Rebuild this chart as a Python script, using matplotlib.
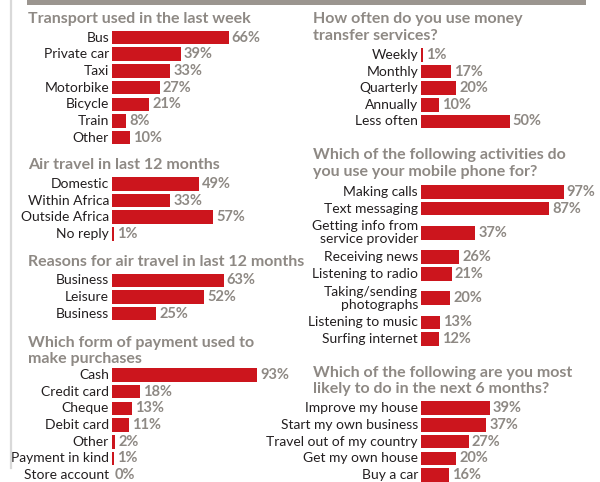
import matplotlib
matplotlib.use("Agg")
import matplotlib.pyplot as plt
from matplotlib.patches import Rectangle
from matplotlib.lines import Line2D

W, H = 600, 482
RED = "#cc151d"
GREY = "#8e8984"
DARK = "#231f20"

plt.rcParams['font.family'] = ['Lato', 'DejaVu Sans']

# ---- data ----
transport_labels = ["Bus", "Private car", "Taxi", "Motorbike", "Bicycle", "Train", "Other"]
transport_values = [66, 39, 33, 27, 21, 8, 10]

air_labels = ["Domestic", "Within Africa", "Outside Africa", "No reply"]
air_values = [49, 33, 57, 1]

reason_labels = ["Business", "Leisure", "Business"]
reason_values = [63, 52, 25]

payment_labels = ["Cash", "Credit card", "Cheque", "Debit card", "Other",
                  "Payment in kind", "Store account"]
payment_values = [93, 18, 13, 11, 2, 1, 0]

transfer_labels = ["Weekly", "Monthly", "Quarterly", "Annually", "Less often"]
transfer_values = [1, 17, 20, 10, 50]

mobile_labels = ["Making calls", "Text messaging", "Getting info from\nservice provider",
                 "Receiving news", "Listening to radio", "Taking/sending\nphotographs",
                 "Listening to music", "Surfing internet"]
mobile_values = [97, 87, 37, 26, 21, 20, 13, 12]

plans_labels = ["Improve my house", "Start my own business", "Travel out of my country",
                "Get my own house", "Buy a car"]
plans_values = [39, 37, 27, 20, 16]


def panel(fig, title_lines, title_x, title_base, bar_x, first_y, labels, values,
          scale=1.77, pitch=16.7):
    # title, one line at a time, last line sits on title_base
    for i, line in enumerate(title_lines):
        yb = title_base - (len(title_lines) - 1 - i) * 16.5
        fig.text(title_x / W, 1 - yb / H, line, fontsize=11.5, fontweight='bold',
                 color=GREY, va='baseline', ha='left')
    heights = [1.9 if "\n" in l else 1.0 for l in labels]
    ys = [0.0]
    for a, b in zip(heights[:-1], heights[1:]):
        ys.append(ys[-1] + (a + b) / 2)
    top = ys[0] - heights[0] / 2
    bottom = ys[-1] + heights[-1] / 2
    top_px = first_y - heights[0] / 2 * pitch
    h_px = (bottom - top) * pitch
    w_px = W - bar_x
    ax = fig.add_axes([bar_x / W, 1 - (top_px + h_px) / H, w_px / W, h_px / H])
    ax.barh(ys, values, height=13.5 / pitch, color=RED, linewidth=0)
    ax.set_xlim(0, w_px / scale)
    ax.set_ylim(bottom, top)
    ax.axis('off')
    for y, lab, v in zip(ys, labels, values):
        ax.annotate(lab, (0, y), xytext=(-3, 0), textcoords='offset pixels',
                    ha='right', va='center', fontsize=10, color=DARK,
                    linespacing=1.1, annotation_clip=False)
        ax.annotate(f"{v}%", (v, y), xytext=(3, 0), textcoords='offset pixels',
                    ha='left', va='center', fontsize=10.5, fontweight='bold',
                    color=GREY, annotation_clip=False)
    return ax


fig = plt.figure(figsize=(W / 100, H / 100), dpi=100)
fig.patch.set_facecolor('white')

# decorations: top band and thin left rule
fig.add_artist(Rectangle((27 / W, 1 - 5 / H), (586 - 27) / W, 5 / H,
                         transform=fig.transFigure, color="#9b958f", lw=0))
fig.add_artist(Line2D([11 / W, 11 / W], [1, 1 - 468 / H], transform=fig.transFigure,
                      color="#d9d9d9", lw=1.6))

panel(fig, ["Transport used in the last week"], 28, 22.5, 112, 37.5,
      transport_labels, transport_values)
panel(fig, ["Air travel in last 12 months"], 28, 169, 112, 184,
      air_labels, air_values, pitch=16.6)
panel(fig, ["Reasons for air travel in last 12 months"], 28, 266, 112, 280.5,
      reason_labels, reason_values, pitch=16.5)
panel(fig, ["Which form of payment used to", "make purchases"], 28, 363, 112, 375,
      payment_labels, payment_values, scale=1.56)

panel(fig, ["How often do you use money", "transfer services?"], 313, 40, 421, 55,
      transfer_labels, transfer_values, pitch=16.6)
panel(fig, ["Which of the following activities do", "you use your mobile phone for?"],
      313, 176, 421, 192, mobile_labels, mobile_values, scale=1.47)
panel(fig, ["Which of the following are you most", "likely to do in the next 6 months?"],
      313, 393.5, 421, 408, plans_labels, plans_values, pitch=16.75)

fig.savefig("out.png", dpi=100)
